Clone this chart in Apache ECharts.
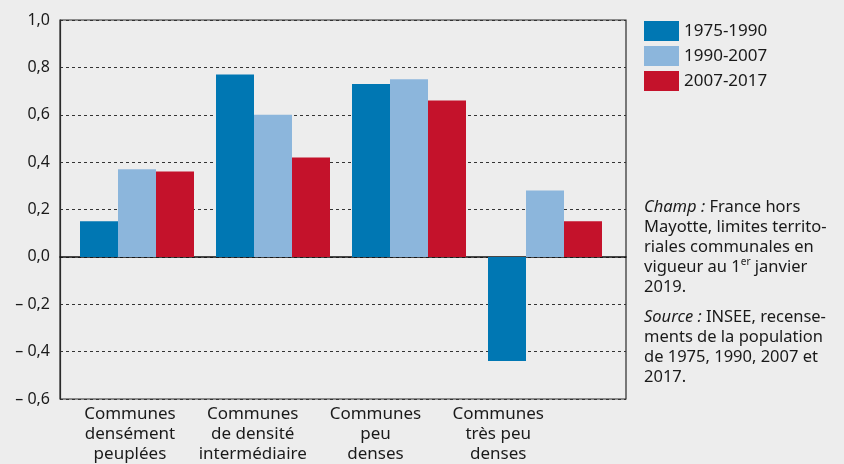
<!DOCTYPE html>
<html><head><meta charset="utf-8">
<script src="https://cdn.jsdelivr.net/npm/echarts@6/dist/echarts.min.js"></script>
<style>html,body{margin:0;padding:0;background:#ededed;}#c{width:844px;height:464px;}</style>
</head><body><div id="c"></div>
<script>
const categories = ["Communes\ndensément\npeuplées", "Communes\nde densité\nintermédiaire", "Communes\npeu\ndenses", "Communes\ntrès peu\ndenses"];
const seriesNames = ["1975-1990", "1990-2007", "2007-2017"];
const s1975 = [0.15, 0.77, 0.73, -0.44];
const s1990 = [0.37, 0.60, 0.75, 0.28];
const s2007 = [0.36, 0.42, 0.66, 0.15];
const colors = ["#0077b3", "#8cb6dc", "#c4122b"];
const yMin = -0.6, yMax = 1.0, yStep = 0.2;

const font = "Noto Sans";
const txt = "#1a1a1a";
const chart = echarts.init(document.getElementById('c'));
const fmt = v => { const r = Math.round(v*10)/10; const s = Math.abs(r).toFixed(1).replace('.', ','); return r < 0 ? '– ' + s : s; };

chart.setOption({
  backgroundColor: '#ededed',
  animation: false,
  textStyle: {fontFamily: font},
  title: [
    {left: 644, top: 197, padding: 0,
     text: '{i|Champ :} France hors\nMayotte, limites territo-\nriales communales en\nvigueur au 1{s|er} janvier\n2019.',
     textStyle: {fontFamily: font, fontSize: 16.5, fontWeight: 'normal', color: txt, lineHeight: 20,
       rich: {i: {fontStyle: 'italic', fontSize: 16.5, fontFamily: font, color: txt, lineHeight: 20},
              s: {fontSize: 10, fontFamily: font, color: txt, verticalAlign: 'top', lineHeight: 20, padding: [0,0,7,0]}}}},
    {left: 644, top: 307, padding: 0,
     text: '{i|Source :} INSEE, recense-\nments de la population\nde 1975, 1990, 2007 et\n2017.',
     textStyle: {fontFamily: font, fontSize: 16.5, fontWeight: 'normal', color: txt, lineHeight: 20,
       rich: {i: {fontStyle: 'italic', fontSize: 16.5, fontFamily: font, color: txt, lineHeight: 20}}}}
  ],
  legend: {
    orient: 'vertical', left: 644, top: 21, padding: 0,
    itemWidth: 35, itemHeight: 20, itemGap: 5,
    icon: 'rect',
    data: seriesNames,
    textStyle: {fontFamily: font, fontSize: 17, color: txt}
  },
  grid: [
    {left: 60, right: 218, top: 20, bottom: 65, show: true, borderColor: '#2a2a2a', borderWidth: 1.2, backgroundColor: 'transparent'},
    {left: 69, width: 544, top: 20, bottom: 65},
    {left: 68.6, width: 491, top: 20, bottom: 65}
  ],
  xAxis: [
    {gridIndex: 0, type: 'category', data: categories,
     axisLine: {show: true, onZero: true, lineStyle: {color: '#111', width: 1.5}},
     axisTick: {show: false}, axisLabel: {show: false}, splitLine: {show: false}},
    {gridIndex: 1, type: 'category', data: categories, show: false},
    {gridIndex: 2, type: 'category', data: categories, position: 'bottom',
     axisLine: {show: false}, axisTick: {show: false},
     axisLabel: {interval: 0, margin: 8, fontFamily: font, fontSize: 17, color: txt, lineHeight: 20}}
  ],
  yAxis: [
    {gridIndex: 0, type: 'value', min: yMin, max: yMax, interval: yStep,
     axisLine: {show: true, lineStyle: {color: '#2a2a2a', width: 1.2}},
     axisTick: {show: false},
     axisLabel: {margin: 10, fontFamily: font, fontSize: 16, color: txt, formatter: fmt},
     splitLine: {show: true, lineStyle: {color: '#333', type: [3, 3], width: 1}}},
    {gridIndex: 1, type: 'value', min: yMin, max: yMax, interval: yStep, show: false, splitLine: {show: false}},
    {gridIndex: 2, type: 'value', min: yMin, max: yMax, interval: yStep, show: false, splitLine: {show: false}}
  ],
  series: [s1975, s1990, s2007].map((d, i) => ({
    name: seriesNames[i], type: 'bar', xAxisIndex: 1, yAxisIndex: 1,
    data: d, barWidth: 38, barGap: '0%', itemStyle: {color: colors[i]}, z: 3
  }))
});
</script></body></html>
